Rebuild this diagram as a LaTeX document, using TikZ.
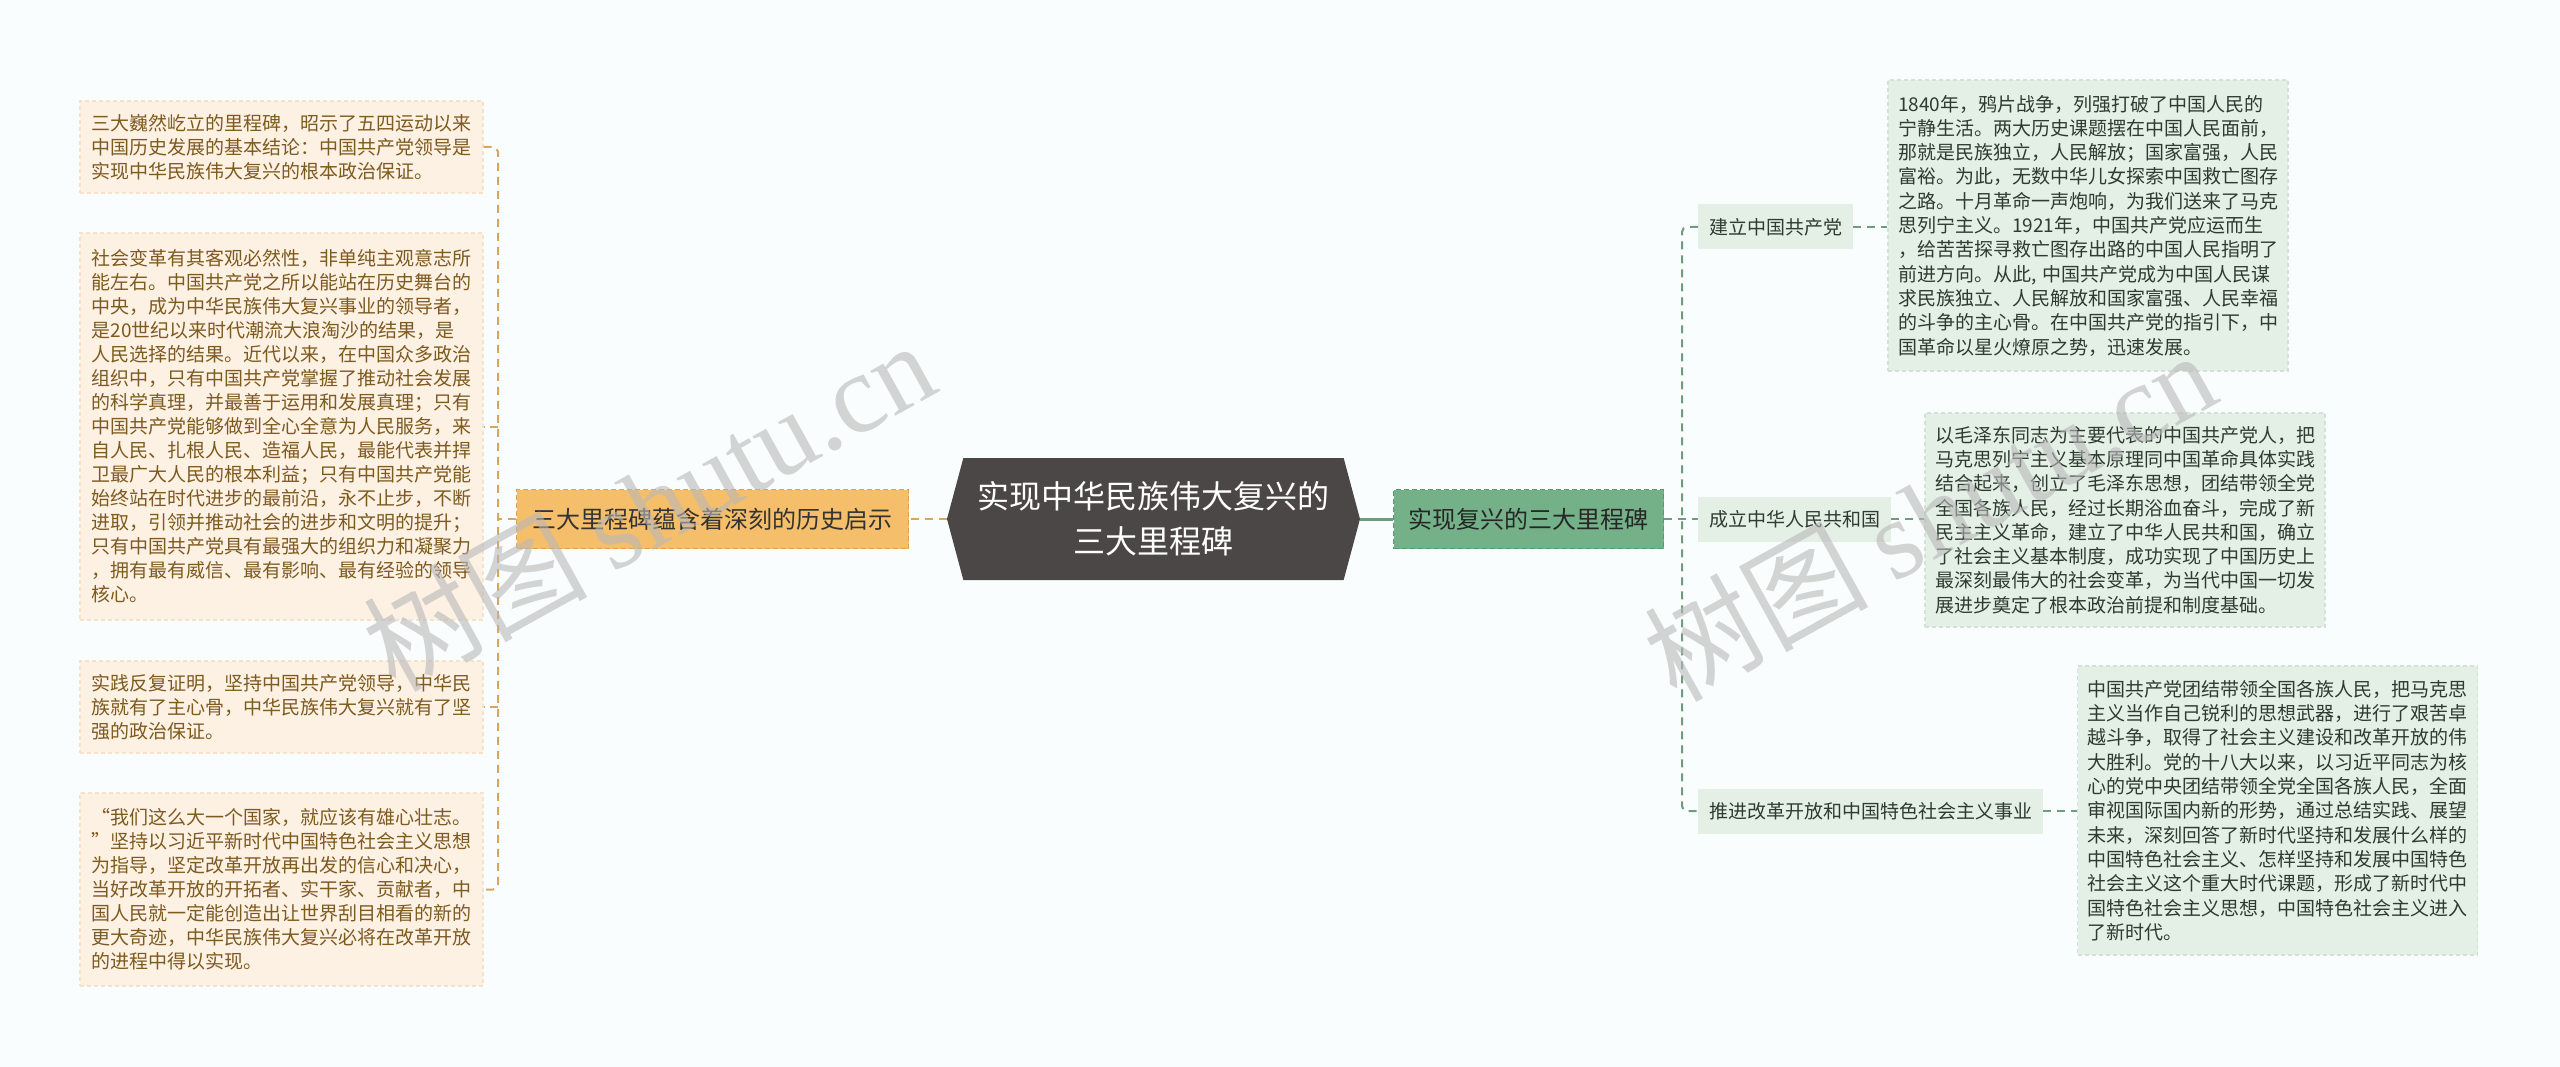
\documentclass[tikz,border=0pt]{standalone}
\usepackage{fontspec}
\setmainfont{Noto Sans CJK SC}
\newfontfamily\wmserif{Liberation Serif}
\usetikzlibrary{shapes.symbols}
\definecolor{bgc}{HTML}{FAFDFD}
\definecolor{lleaffill}{HTML}{FDF1E4}
\definecolor{lleafdraw}{HTML}{F6E2CB}
\definecolor{lleaftext}{HTML}{7D5A1E}
\definecolor{lmainfill}{HTML}{F4BE6B}
\definecolor{lmaindraw}{HTML}{D9A151}
\definecolor{cdark}{HTML}{4B4747}
\definecolor{rmainfill}{HTML}{74B189}
\definecolor{rmaindraw}{HTML}{5A9A70}
\definecolor{rfill}{HTML}{E4EFE6}
\definecolor{rdraw}{HTML}{D2E2D6}
\definecolor{rtext}{HTML}{2E3B30}
\definecolor{corange}{HTML}{D9A65E}
\definecolor{cgreen}{HTML}{6E9C7D}
\definecolor{wmgray}{HTML}{B8B8B8}
\begin{document}
\begin{tikzpicture}[x=1pt,y=-1pt,
  lleaf/.style={rectangle, fill=lleaffill, draw=lleafdraw, line width=1.2pt, dash pattern=on 4pt off 3pt,
    text=lleaftext, font=\fontsize{19}{24}\selectfont, align=left, text width=380pt,
    inner xsep=11.5pt, inner ysep=0pt, minimum width=403pt},
  rleaf/.style={rectangle, fill=rfill, draw=rdraw, line width=1.2pt, dash pattern=on 4pt off 3pt,
    text=rtext, font=\fontsize{19}{24.3}\selectfont, align=left, text width=380pt,
    inner xsep=10pt, inner ysep=0pt, minimum width=400pt},
  rmid/.style={rectangle, fill=rfill, text=rtext, font=\fontsize{19}{24}\selectfont,
    inner xsep=11pt, inner ysep=0pt, minimum height=45pt},
  lmainbox/.style={rectangle, fill=lmainfill, draw=lmaindraw, line width=1.5pt, dash pattern=on 5pt off 3pt,
    text=black!80, font=\fontsize{24}{28}\selectfont, inner xsep=16pt, inner ysep=0pt,
    minimum height=59pt},
  rmainbox/.style={rectangle, fill=rmainfill, draw=rmaindraw, line width=1.5pt, dash pattern=on 5pt off 3pt,
    text=black!85, font=\fontsize{24}{28}\selectfont, inner xsep=15pt, inner ysep=0pt,
    minimum height=59pt},
  centerbox/.style={signal, signal to=east and west, signal pointer angle=150,
    fill=cdark, text=white, font=\fontsize{32}{45}\selectfont, align=center,
    minimum width=413pt, minimum height=122pt, inner sep=0pt},
  lconn/.style={draw=corange, line width=2pt, dash pattern=on 8pt off 6pt},
  rconn/.style={draw=cgreen, line width=2pt, dash pattern=on 8pt off 6pt},
  gsolid/.style={draw=cgreen, line width=3pt},
  wm/.style={text=wmgray, opacity=0.6, font=\fontsize{112}{120}\selectfont, inner sep=0pt}
]
\fill[bgc] (0,0) rectangle (2560,1067);
\useasboundingbox (0,0) rectangle (2560,1067);

% centre
\node[centerbox] (c) at (1153.5,519) {实现中华民族伟大复兴的\\三大里程碑};

% left branch
\node[lmainbox] (lmain) at (712.5,519) {三大里程碑蕴含着深刻的历史启示};
\node[lleaf, minimum height=92pt] (ll1) at (281.5,147) {三大巍然屹立的里程碑，昭示了五四运动以来\\中国历史发展的基本结论：中国共产党领导是\\实现中华民族伟大复兴的根本政治保证。};
\node[lleaf, minimum height=387pt] (ll2) at (281.5,426.5) {社会变革有其客观必然性，非单纯主观意志所\\能左右。中国共产党之所以能站在历史舞台的\\中央，成为中华民族伟大复兴事业的领导者，\\是20世纪以来时代潮流大浪淘沙的结果，是\\人民选择的结果。近代以来，在中国众多政治\\组织中，只有中国共产党掌握了推动社会发展\\的科学真理，并最善于运用和发展真理；只有\\中国共产党能够做到全心全意为人民服务，来\\自人民、扎根人民、造福人民，最能代表并捍\\卫最广大人民的根本利益；只有中国共产党能\\始终站在时代进步的最前沿，永不止步，不断\\进取，引领并推动社会的进步和文明的提升；\\只有中国共产党具有最强大的组织力和凝聚力\\，拥有最有威信、最有影响、最有经验的领导\\核心。};
\node[lleaf, minimum height=92pt] (ll3) at (281.5,707) {实践反复证明，坚持中国共产党领导，中华民\\族就有了主心骨，中华民族伟大复兴就有了坚\\强的政治保证。};
\node[lleaf, minimum height=193pt] (ll4) at (281.5,889.5) {“我们这么大一个国家，就应该有雄心壮志。\\”坚持以习近平新时代中国特色社会主义思想\\为指导，坚定改革开放再出发的信心和决心，\\当好改革开放的开拓者、实干家、贡献者，中\\国人民就一定能创造出让世界刮目相看的新的\\更大奇迹，中华民族伟大复兴必将在改革开放\\的进程中得以实现。};

\coordinate (lj) at (498,519);
\draw[lconn] (c.west) -- (lmain.east);
\draw[lconn] (lmain.west) -- (lj);
\draw[lconn, rounded corners=5pt] (ll1.east) -| (lj) |- (ll4.east);
\draw[lconn] (lj |- ll2.east) -- (ll2.east);
\draw[lconn] (lj |- ll3.east) -- (ll3.east);

% right branch
\node[rmainbox] (rmain) at (1528.5,519) {实现复兴的三大里程碑};
\node[rmid, anchor=west] (r1) at (1698,227) {建立中国共产党};
\node[rmid, anchor=west] (r2) at (1698,519) {成立中华人民共和国};
\node[rmid, anchor=west] (r3) at (1698,811) {推进改革开放和中国特色社会主义事业};

\node[rleaf, minimum height=291pt] (rl1) at (2088,225.5) {1840年，鸦片战争，列强打破了中国人民的\\宁静生活。两大历史课题摆在中国人民面前，\\那就是民族独立，人民解放；国家富强，人民\\富裕。为此，无数中华儿女探索中国救亡图存\\之路。十月革命一声炮响，为我们送来了马克\\思列宁主义。1921年，中国共产党应运而生\\，给苦苦探寻救亡图存出路的中国人民指明了\\前进方向。从此, 中国共产党成为中国人民谋\\求民族独立、人民解放和国家富强、人民幸福\\的斗争的主心骨。在中国共产党的指引下，中\\国革命以星火燎原之势，迅速发展。};
\node[rleaf, minimum height=214pt] (rl2) at (2125,520) {以毛泽东同志为主要代表的中国共产党人，把\\马克思列宁主义基本原理同中国革命具体实践\\结合起来，创立了毛泽东思想，团结带领全党\\全国各族人民，经过长期浴血奋斗，完成了新\\民主主义革命，建立了中华人民共和国，确立\\了社会主义基本制度，成功实现了中国历史上\\最深刻最伟大的社会变革，为当代中国一切发\\展进步奠定了根本政治前提和制度基础。};
\node[rleaf, minimum height=289pt] (rl3) at (2277.5,810.5) {中国共产党团结带领全国各族人民，把马克思\\主义当作自己锐利的思想武器，进行了艰苦卓\\越斗争，取得了社会主义建设和改革开放的伟\\大胜利。党的十八大以来，以习近平同志为核\\心的党中央团结带领全党全国各族人民，全面\\审视国际国内新的形势，通过总结实践、展望\\未来，深刻回答了新时代坚持和发展什么样的\\中国特色社会主义、怎样坚持和发展中国特色\\社会主义这个重大时代课题，形成了新时代中\\国特色社会主义思想，中国特色社会主义进入\\了新时代。};

\coordinate (rj) at (1682,519);
\draw[gsolid] (c.east) -- (rmain.west);
\draw[rconn] (rmain.east) -- (r2.west);
\draw[rconn, rounded corners=5pt] (r1.west) -| (rj) |- (r3.west);
\draw[rconn] (r1.east) -- (r1.east -| rl1.west);
\draw[rconn] (r2.east) -- (r2.east -| rl2.west);
\draw[rconn] (r3.east) -- (r3.east -| rl3.west);

% watermarks
\node[wm, rotate=29] (wm1) at (648,505) {树图 {\wmserif shutu.cn}};
\node[wm, rotate=29] (wm2) at (1929,515) {树图 {\wmserif shutu.cn}};
\end{tikzpicture}
\end{document}
